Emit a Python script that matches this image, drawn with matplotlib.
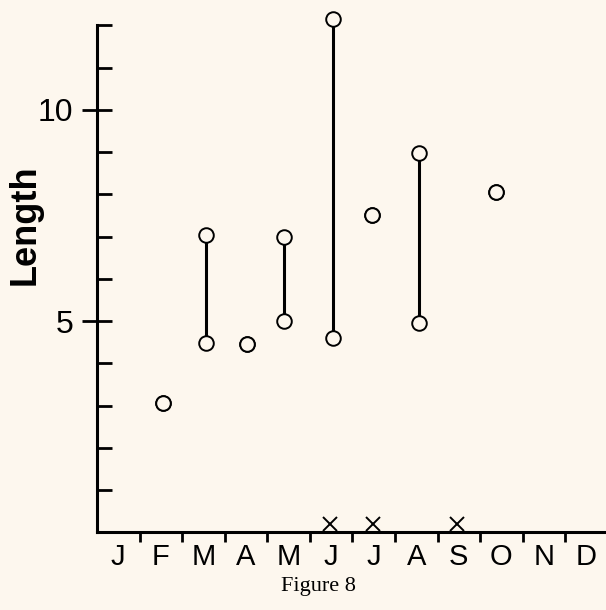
import matplotlib
matplotlib.use("Agg")
import matplotlib.pyplot as plt
from matplotlib.ticker import FixedLocator, NullFormatter

# months shown along the bottom
months = ['J', 'F', 'M', 'A', 'M', 'J', 'J', 'A', 'S', 'O', 'N', 'D']

# sampling positions (in month units from start of year) and lengths
pos = [1.55, 2.55, 3.52, 4.39, 5.54, 6.47, 7.56, 9.37]
low = [3.06, 4.48, 4.45, 5.00, 4.59, 7.52, 4.96, 8.05]
high = [3.06, 7.03, 4.45, 7.00, 12.14, 7.52, 8.98, 8.05]

# months where only an "x" was recorded
x_pos = [5.47, 6.48, 8.45]
x_val = [0.2, 0.2, 0.2]

bg = '#fdf7ee'
fig = plt.figure(figsize=(6.06, 6.10), dpi=100, facecolor=bg)
ax = fig.add_axes([0.160, 0.1275, 0.843, 0.8725], facecolor=bg)

for p, lo, hi in zip(pos, low, high):
    if hi > lo:
        ax.plot([p, p], [lo, hi], color='black', lw=2.2, zorder=2)
ax.plot(pos, low, 'o', ms=10.5, mfc=bg, mec='black', mew=1.4, zorder=3)
ax.plot(pos, high, 'o', ms=10.5, mfc=bg, mec='black', mew=1.4, zorder=3)
ax.plot(x_pos, x_val, 'x', ms=10.5, mec='black', mew=1.4, clip_on=False, zorder=3)

ax.set_xlim(0, 12)
ax.set_ylim(0, 12.6)

for s in ['top', 'right']:
    ax.spines[s].set_visible(False)
ax.spines['left'].set_bounds(0, 12)
ax.spines['left'].set_linewidth(2.2)
ax.spines['bottom'].set_linewidth(2.2)

# y ticks: labelled at 5 and 10, unlabelled every unit
ax.yaxis.set_major_locator(FixedLocator([5, 10]))
ax.yaxis.set_minor_locator(FixedLocator([1, 2, 3, 4, 6, 7, 8, 9, 11, 12]))
ax.tick_params(axis='y', which='major', direction='inout', length=22,
               width=2, labelsize=23, pad=6)
ax.tick_params(axis='y', which='minor', direction='in', length=11, width=2)
for t in ax.get_yticklabels():
    t.set_family('Liberation Sans')

# x ticks: month boundaries, labels centred in each month
ax.xaxis.set_major_locator(FixedLocator(range(1, 12)))
ax.xaxis.set_major_formatter(NullFormatter())
ax.xaxis.set_minor_locator(FixedLocator([i + 0.5 for i in range(12)]))
ax.set_xticklabels(months, minor=True, family='Liberation Sans', fontsize=21)
ax.tick_params(axis='x', which='major', direction='out', length=7, width=2)
ax.tick_params(axis='x', which='minor', length=0, pad=8)

fig.text(0.041, 0.631, 'Length', rotation=90, ha='center', va='center',
         fontsize=26, fontweight='bold', family='Liberation Sans')
fig.text(0.525, 0.038, 'Figure 8', ha='center', va='center',
         fontsize=16, family='Liberation Serif')

fig.savefig('out.png', dpi=100, facecolor=bg)
